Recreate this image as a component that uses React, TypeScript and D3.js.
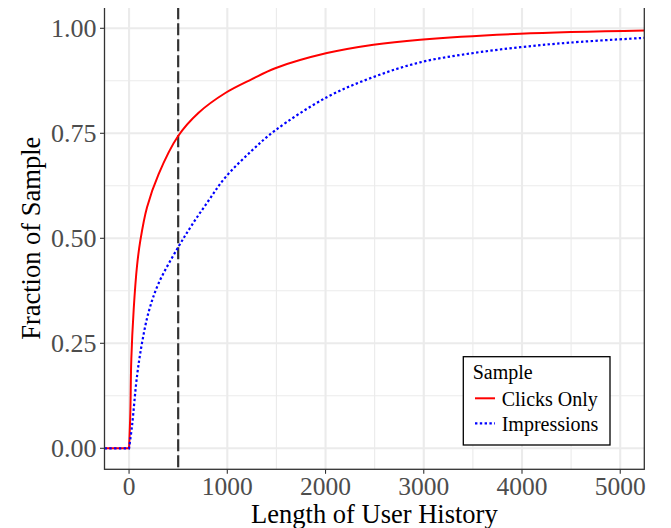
import React from "react";
import * as d3 from "d3";

const clicksX = [-250, 0, 13, 23, 47, 81, 115, 183, 301, 498, 708, 980, 1251, 1488, 2014, 2488, 2963, 3980, 5300];
const clicksY = [0, 0, 0.085, 0.212, 0.33, 0.434, 0.495, 0.574, 0.653, 0.743, 0.799, 0.846, 0.879, 0.905, 0.941, 0.961, 0.973, 0.987, 0.995];
const imprX = [-250, 0, 30, 81, 132, 200, 301, 498, 641, 810, 980, 1251, 1488, 2014, 2488, 2963, 3472, 3980, 4489, 5300];
const imprY = [0, 0, 0.053, 0.172, 0.251, 0.325, 0.393, 0.478, 0.532, 0.59, 0.645, 0.709, 0.757, 0.836, 0.884, 0.919, 0.94, 0.955, 0.966, 0.978];
const xTicks = [0, 1000, 2000, 3000, 4000, 5000];
const xMinor = [500, 1500, 2500, 3500, 4500];
const yTicks = [0, 0.25, 0.5, 0.75, 1];
const yMinor = [0.125, 0.375, 0.625, 0.875];
const cutoff = 500;
const seriesNames = ["Clicks Only", "Impressions"];
const legendTitle = "Sample";
const xTitle = "Length of User History";
const yTitle = "Fraction of Sample";

const FONT = "'Liberation Serif', 'DejaVu Serif', serif";

export default function App() {
  const left = 104.5, right = 644.3, top = 7.3, bottom = 469.3;
  const x = d3.scaleLinear().domain([-250, 5245]).range([left, right]);
  const y = d3.scaleLinear().domain([-0.05, 1.05]).range([bottom, top]);
  const smooth = d3.line<[number, number]>().x(d => x(d[0])).y(d => y(d[1])).curve(d3.curveCatmullRom.alpha(0.5));
  const straight = d3.line<[number, number]>().x(d => x(d[0])).y(d => y(d[1]));
  const path = (pts: [number, number][]) => {
    const a = straight(pts.slice(0, 2)) || "";
    const b = (smooth(pts.slice(1)) || "").replace(/^M[^A-Za-z]*/, "");
    return a + b;
  };
  const clicks = clicksX.map((v, i) => [v, clicksY[i]] as [number, number]);
  const impr = imprX.map((v, i) => [v, imprY[i]] as [number, number]);
  const grid = "#EBEBEB";
  return (
    <svg width={663} height={520} style={{ display: "block" }}>
      <defs>
        <clipPath id="panel">
          <rect x={left} y={top} width={right - left} height={bottom - top} />
        </clipPath>
      </defs>
      <rect x={0} y={0} width={663} height={520} fill="white" />
      <g transform="translate(-8,-8)">
        {xMinor.map(t => (
          <line key={"xm" + t} x1={x(t)} x2={x(t)} y1={top} y2={bottom} stroke={grid} strokeWidth={1.1} />
        ))}
        {yMinor.map(t => (
          <line key={"ym" + t} x1={left} x2={right} y1={y(t)} y2={y(t)} stroke={grid} strokeWidth={1.1} />
        ))}
        {xTicks.map(t => (
          <line key={"xg" + t} x1={x(t)} x2={x(t)} y1={top} y2={bottom} stroke={grid} strokeWidth={2.1} />
        ))}
        {yTicks.map(t => (
          <line key={"yg" + t} x1={left} x2={right} y1={y(t)} y2={y(t)} stroke={grid} strokeWidth={2.1} />
        ))}
        <g clipPath="url(#panel)">
          <line x1={x(cutoff)} x2={x(cutoff)} y1={top} y2={bottom} stroke="#333333" strokeWidth={2.2} strokeDasharray="12,4" />
          <path d={path(clicks)} fill="none" stroke="#FF0000" strokeWidth={2} />
          <path d={path(impr)} fill="none" stroke="#0000FF" strokeWidth={2.2} strokeDasharray="2.4,2.4" />
        </g>
        <rect x={left} y={top} width={right - left} height={bottom - top} fill="none" stroke="#333333" strokeWidth={1.3} />
        {xTicks.map(t => (
          <g key={"xt" + t}>
            <line x1={x(t)} x2={x(t)} y1={bottom} y2={bottom + 4.5} stroke="#333333" strokeWidth={1.1} />
            <text x={x(t)} y={494.5} textAnchor="middle" fontFamily={FONT} fontSize={25.5} fill="#4D4D4D">{t}</text>
          </g>
        ))}
        {yTicks.map(t => (
          <g key={"yt" + t}>
            <line x1={left - 4.5} x2={left} y1={y(t)} y2={y(t)} stroke="#333333" strokeWidth={1.1} />
            <text x={96.5} y={y(t)} dy="0.35em" textAnchor="end" fontFamily={FONT} fontSize={26} fill="#4D4D4D">{t.toFixed(2)}</text>
          </g>
        ))}
        <text x={(left + right) / 2} y={522.5} textAnchor="middle" fontFamily={FONT} fontSize={26.5} fill="black">{xTitle}</text>
        <text transform={`translate(40,${(top + bottom) / 2}) rotate(-90)`} textAnchor="middle" fontFamily={FONT} fontSize={26.5} fill="black">{yTitle}</text>
        <rect x={463.3} y={356.7} width={146.7} height={88.3} fill="white" stroke="black" strokeWidth={1.3} />
        <text x={472.7} y={379} fontFamily={FONT} fontSize={20} fill="black">{legendTitle}</text>
        <line x1={475} x2={495} y1={398.3} y2={398.3} stroke="#FF0000" strokeWidth={2} />
        <text x={501.7} y={405.5} fontFamily={FONT} fontSize={20} fill="black">{seriesNames[0]}</text>
        <line x1={475} x2={495} y1={423.3} y2={423.3} stroke="#0000FF" strokeWidth={2.2} strokeDasharray="2.4,2.4" />
        <text x={501.7} y={430.5} fontFamily={FONT} fontSize={20} fill="black">{seriesNames[1]}</text>
      </g>
    </svg>
  );
}
